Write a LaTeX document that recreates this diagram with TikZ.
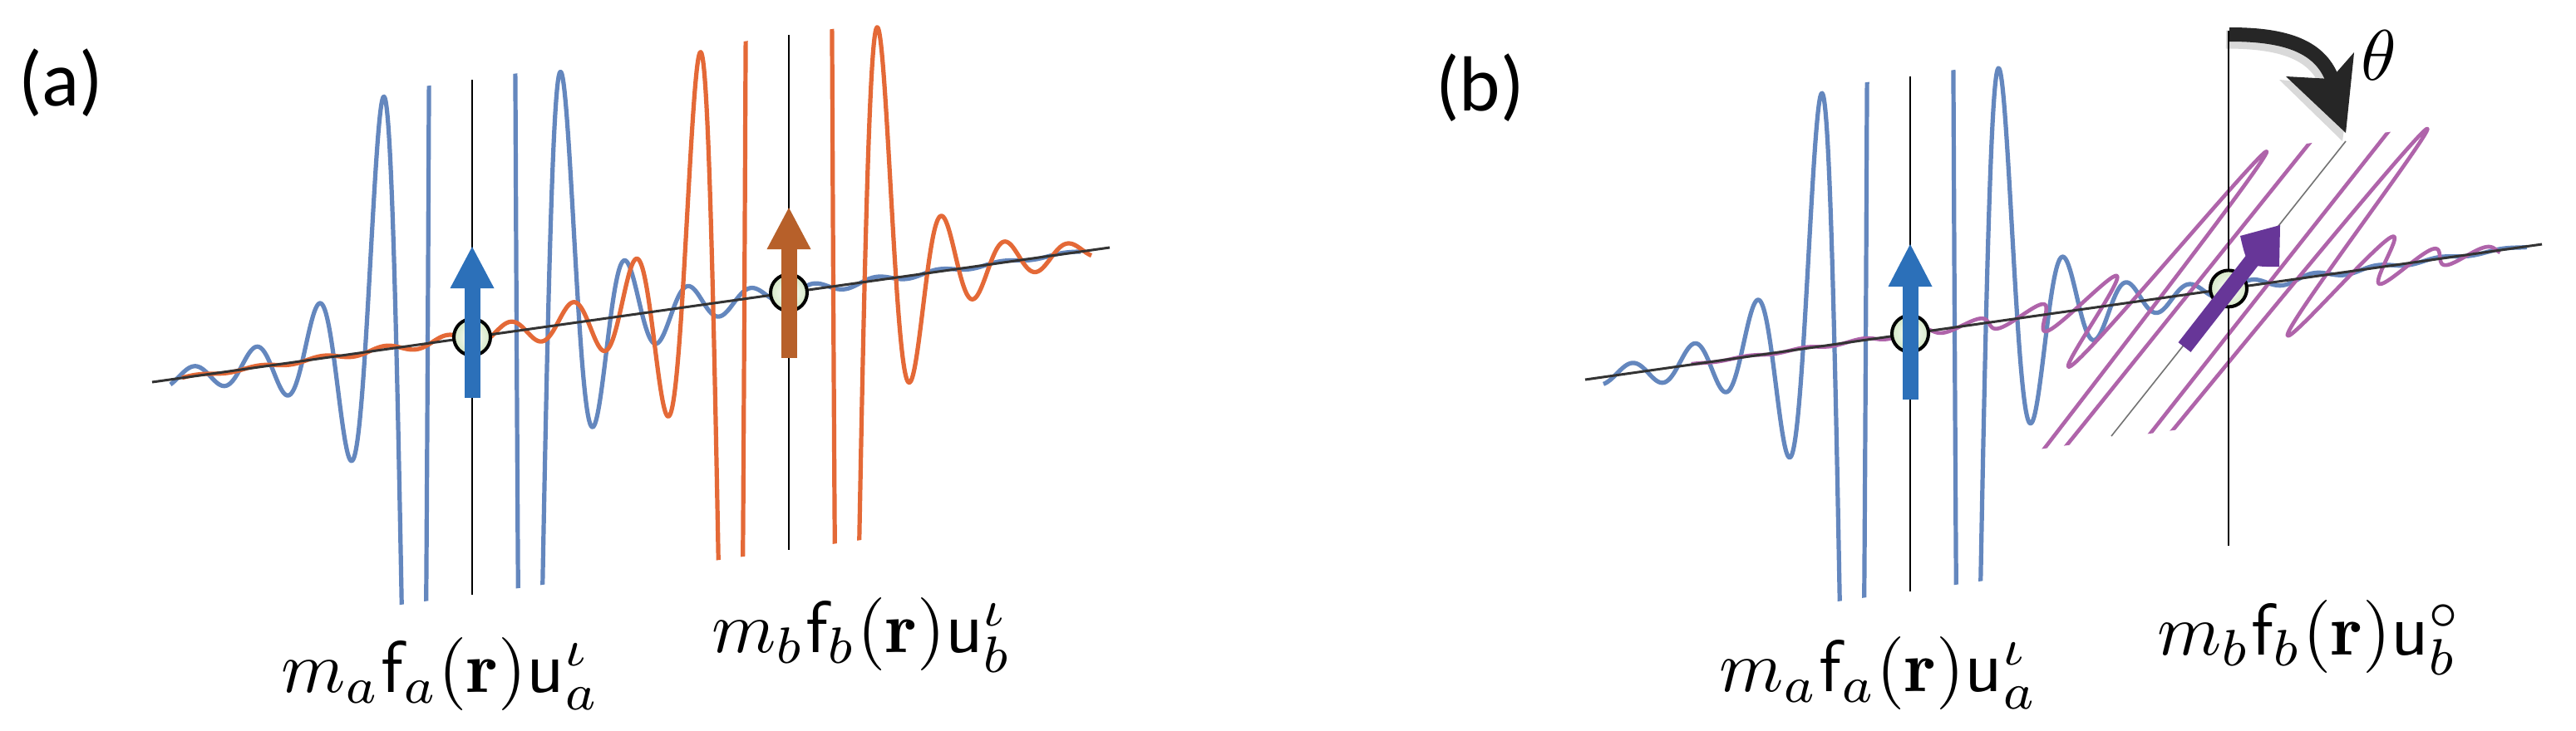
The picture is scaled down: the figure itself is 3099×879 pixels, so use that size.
\documentclass[tikz,border=0pt]{standalone}
\usepackage{fontspec}
\usepackage{graphicx}
\newfontfamily\panelfont{Carlito}
\definecolor{cblue}{HTML}{6487BE}
\definecolor{corange}{HTML}{E46937}
\definecolor{cpurple}{HTML}{AF64AA}
\definecolor{ablue}{HTML}{2C70B9}
\definecolor{aorange}{HTML}{B7602A}
\definecolor{apurple}{HTML}{673698}
\definecolor{atomgreen}{HTML}{D5E8C6}
\definecolor{axisgray}{HTML}{333333}
\definecolor{thetagray}{HTML}{262626}
\tikzset{
  wave/.style={line width=2.6pt, line join=round},
  axisline/.style={draw=axisgray, line width=1.5pt},
  vline/.style={draw=black, line width=1pt},
  tiltline/.style={draw=black!55, line width=0.8pt},
  atom/.style={circle, draw=black, line width=2pt, minimum size=22pt, inner sep=0pt, inner color=white, outer color=atomgreen},
  mathlabel/.style={anchor=base west, inner sep=0pt},
  panel/.style={anchor=base west, inner sep=0pt, font=\panelfont\fontsize{47}{52}\selectfont},
}
\begin{document}
\begin{tikzpicture}[x=0.5pt,y=-0.5pt,
  declare function={
    ff(\d)=(abs(\d)<45)?400:max(-400,min(400,290*pow(110/max(abs(\d),40),2.85)*cos((abs(\d)-110)/37.7*180)));
    Ya(\x)=460-0.140625*(\x-183);
    Yb(\x)=457-0.1416*(\x-1907);
  }]
\fill[white] (0,0) rectangle (3099,879);
\useasboundingbox (0,0) rectangle (3099,879);

% ---------------- panel (a) ----------------
\begin{scope}
  \clip (150,{Ya(150)-310}) -- (1350,{Ya(1350)-310}) -- (1350,{Ya(1350)+310}) -- (150,{Ya(150)+310}) -- cycle;
  \draw[wave, cblue] plot[domain=205:1300, samples=1096, variable=\x] ({\x},{Ya(\x)-ff(\x-568)});
  \draw[wave, corange] plot[domain=219:1313, samples=1095, variable=\x] ({\x},{Ya(\x)-ff(\x-949)});
\end{scope}
\coordinate (axA1) at (183,460);
\coordinate (axA2) at (1335,298);
\draw[axisline] (axA1) -- (axA2);
\coordinate (vA1) at (568,{Ya(568)-310});
\coordinate (vA2) at (568,{Ya(568)+310});
\coordinate (vB1) at (949,{Ya(949)-310});
\coordinate (vB2) at (949,{Ya(949)+310});
\draw[vline] (vA1) -- (vA2);
\draw[vline] (vB1) -- (vB2);
\node[atom] (atA) at (568,{Ya(568)}) {};
\node[atom] (atB) at (949,{Ya(949)}) {};
% spin arrows
\fill[ablue] (558.5,479) rectangle (577.5,346);
\fill[ablue] (541.5,347) -- (594.5,347) -- (568,297) -- cycle;
\fill[aorange] (939.5,431) rectangle (958.5,299);
\fill[aorange] (922.5,300) -- (975.5,300) -- (949,250) -- cycle;
% labels
\node[panel] (pa) at (22,127) {(a)};
\node[mathlabel] (la) at (338,833) {\scalebox{4.4}{$m_a\mathsf{f}_a(\mathbf{r})\mathsf{u}_a^{\iota}$}};
\node[mathlabel] (lb) at (856,785) {\scalebox{4.4}{$m_b\mathsf{f}_b(\mathbf{r})\mathsf{u}_b^{\iota}$}};

% ---------------- panel (b) ----------------
\begin{scope}
  \clip (1880,{Yb(1880)-310}) -- (3080,{Yb(3080)-310}) -- (3080,{Yb(3080)+310}) -- (1880,{Yb(1880)+310}) -- cycle;
  \draw[wave, cblue] plot[domain=1929:3040, samples=1112, variable=\x] ({\x},{Yb(\x)-ff(\x-2298)});
\end{scope}
\begin{scope}
  \clip ({1990+144.4},{Yb(1990)-181.6}) -- ({3100+144.4},{Yb(3100)-181.6}) -- ({3100-144.4},{Yb(3100)+181.6}) -- ({1990-144.4},{Yb(1990)+181.6}) -- cycle;
  \draw[wave, cpurple, line width=2.3pt] plot[domain=-647:329, samples=977, variable=\t] ({2681+\t+0.4669*ff(\t/0.91)},{Yb(2681+\t)-0.5870*ff(\t/0.91)});
\end{scope}
\coordinate (axB1) at (1907,457);
\coordinate (axB2) at (3058,{Yb(3058)});
\draw[axisline] (axB1) -- (axB2);
\coordinate (vC1) at (2298,{Yb(2298)-310});
\coordinate (vC2) at (2298,{Yb(2298)+310});
\coordinate (vD1) at (2681,{Yb(2681)-310});
\coordinate (vD2) at (2681,{Yb(2681)+310});
\draw[vline] (vC1) -- (vC2);
\draw[vline] (vD1) -- (vD2);
\coordinate (tD1) at (2540,525);
\coordinate (tD2) at (2822,170);
\draw[tiltline] (tD1) -- (tD2);
\node[atom] (atC) at (2298,{Yb(2298)}) {};
\node[atom] (atD) at (2681,{Yb(2681)}) {};
% spin arrows
\fill[ablue] (2288.5,481) rectangle (2307.5,344);
\fill[ablue] (2271.5,345) -- (2324.5,345) -- (2298,294) -- cycle;
\draw[apurple, line width=9.5pt] (2628,418) -- (2716,305);
\fill[apurple] (2695,284) -- (2743,271) -- (2742,321) .. controls (2703.6,321.4) .. (2695,284) -- cycle;
% rotation arrow theta
\begin{scope}[shift={(-4,6)}]
  \draw[black, opacity=0.15, line width=11pt] (2682,41.5) .. controls (2742,41.5) and (2790,52) .. (2806,96);
  \fill[black, opacity=0.15] (2746,90) -- (2822,164) -- (2836,60) -- (2804,95) -- cycle;
\end{scope}
\draw[thetagray, line width=8.5pt] (2682,41.5) .. controls (2742,41.5) and (2790,52) .. (2806,96);
\fill[thetagray] (2750,92) -- (2822,160) -- (2832,63) -- (2804,95) -- cycle;
\node (theta) at (2862,67) {\scalebox{4.3}{$\theta$}};
% labels
\node[panel] (pb) at (1727,133) {(b)};
\node[mathlabel] (lc) at (2068,832) {\scalebox{4.4}{$m_a\mathsf{f}_a(\mathbf{r})\mathsf{u}_a^{\iota}$}};
\node[mathlabel] (ld) at (2595,788) {\scalebox{4.4}{$m_b\mathsf{f}_b(\mathbf{r})\mathsf{u}_b^{\circ}$}};
\end{tikzpicture}
\end{document}
